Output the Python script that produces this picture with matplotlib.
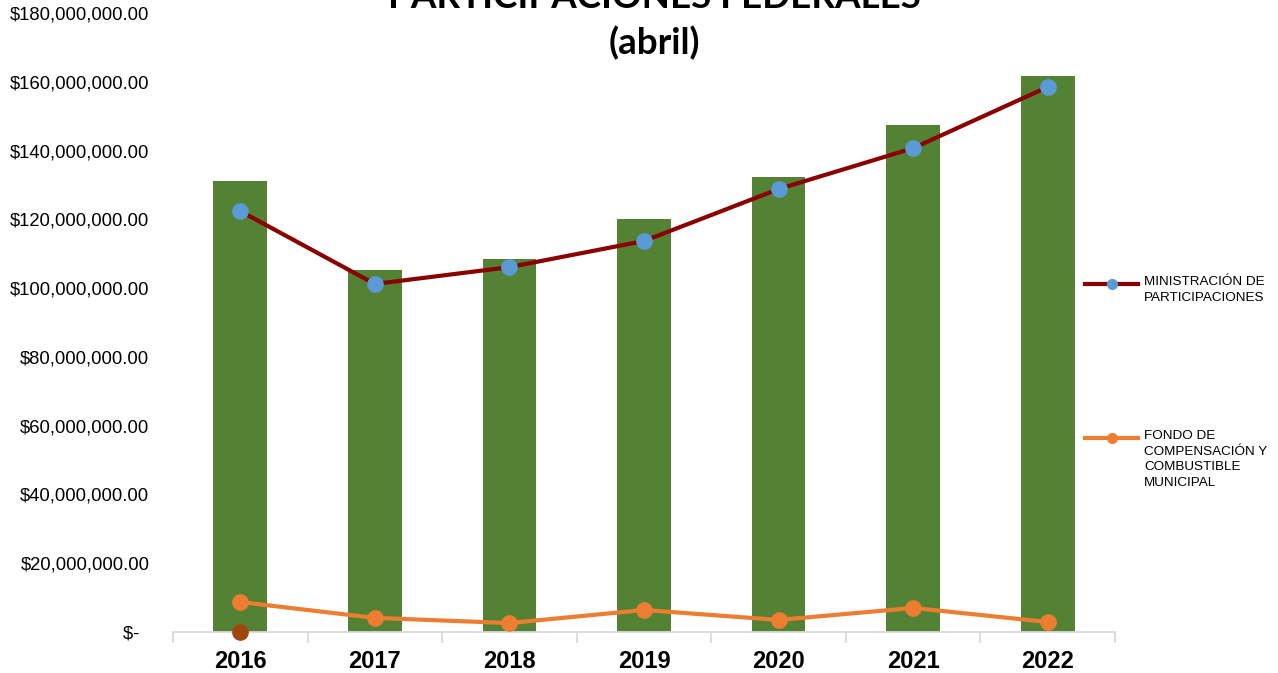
import matplotlib.pyplot as plt
from matplotlib.lines import Line2D
from matplotlib.ticker import FuncFormatter
import numpy as np

# datos
years = ['2016', '2017', '2018', '2019', '2020', '2021', '2022']
total = [131.1e6, 105.3e6, 108.6e6, 120.1e6, 132.3e6, 147.5e6, 161.6e6]
ministracion = [122.4e6, 101.2e6, 106.1e6, 113.7e6, 128.8e6, 140.7e6, 158.5e6]
fondo = [8.7e6, 4.1e6, 2.6e6, 6.4e6, 3.5e6, 7.0e6, 2.9e6]
extra_year = ['2016']
extra_val = [0.0]

W, H = 1278, 673
fig = plt.figure(figsize=(W / 100, H / 100), dpi=100)
ax = fig.add_axes([173 / W, 1 - 632 / H, (1115 - 173) / W, (632 - 13) / H])

x = np.arange(len(years))
ax.bar(x, total, width=0.4, color='#548235', zorder=1)
ax.plot(x, ministracion, color='#8B0000', lw=3, marker='o', ms=11,
        mfc='#5B9BD5', mec='#5B9BD5', zorder=3)
ax.plot(x, fondo, color='#ED7D31', lw=3, marker='o', ms=11,
        mfc='#ED7D31', mec='#ED7D31', zorder=3)
ax.plot([years.index(y) for y in extra_year], extra_val, ls='none', marker='o',
        ms=11, mfc='#9E480E', mec='#9E480E', zorder=4, clip_on=False)

ax.set_xlim(-0.5, len(years) - 0.5)
ax.set_ylim(0, 180e6)
ax.set_yticks(np.arange(0, 180e6 + 1, 20e6))


def fmt(v, pos):
    if v == 0:
        return '$-  '
    return '${:,.2f}'.format(v)


ax.yaxis.set_major_formatter(FuncFormatter(fmt))
ax.tick_params(axis='y', length=0, pad=17, labelsize=13.3)
for lab in ax.get_yticklabels():
    lab.set_fontfamily('Liberation Sans')

ax.set_xticks(x)
ax.set_xticklabels(years, fontsize=17, fontweight='bold', fontfamily='Liberation Sans')
ax.set_xticks(np.arange(-0.5, len(years)), minor=True)
ax.tick_params(axis='x', which='major', length=0, pad=13)
ax.tick_params(axis='x', which='minor', length=8, color='#D9D9D9', width=1.3)

for s in ['top', 'right', 'left']:
    ax.spines[s].set_visible(False)
ax.spines['bottom'].set_color('#D9D9D9')
ax.spines['bottom'].set_linewidth(1.3)

# titulo
fig.text(654 / W, 1 - 8 / H, 'PARTICIPACIONES FEDERALES', ha='center', va='baseline',
         fontsize=26.5, fontweight='bold', fontfamily='Lato')
fig.text(654 / W, 1 - 54 / H, '(abril)', ha='center', va='baseline',
         fontsize=26.5, fontweight='bold', fontfamily='Lato')

# leyenda
leg = [(284, '#8B0000', '#5B9BD5', 'MINISTRACIÓN DE\nPARTICIPACIONES'),
       (438, '#ED7D31', '#ED7D31', 'FONDO DE\nCOMPENSACIÓN Y\nCOMBUSTIBLE\nMUNICIPAL')]
for yp, lc, mc, txt in leg:
    fig.add_artist(Line2D([1085 / W, 1138 / W], [1 - yp / H, 1 - yp / H], color=lc, lw=3,
                          transform=fig.transFigure))
    fig.add_artist(Line2D([1111.5 / W], [1 - yp / H], marker='o', ms=7, mfc=mc, mec=mc,
                          transform=fig.transFigure))
    fig.text(1144 / W, 1 - (yp - 8) / H, txt, ha='left', va='top', fontsize=9.7,
             fontfamily='Liberation Sans', linespacing=1.4)

fig.savefig('out.png', dpi=100)
